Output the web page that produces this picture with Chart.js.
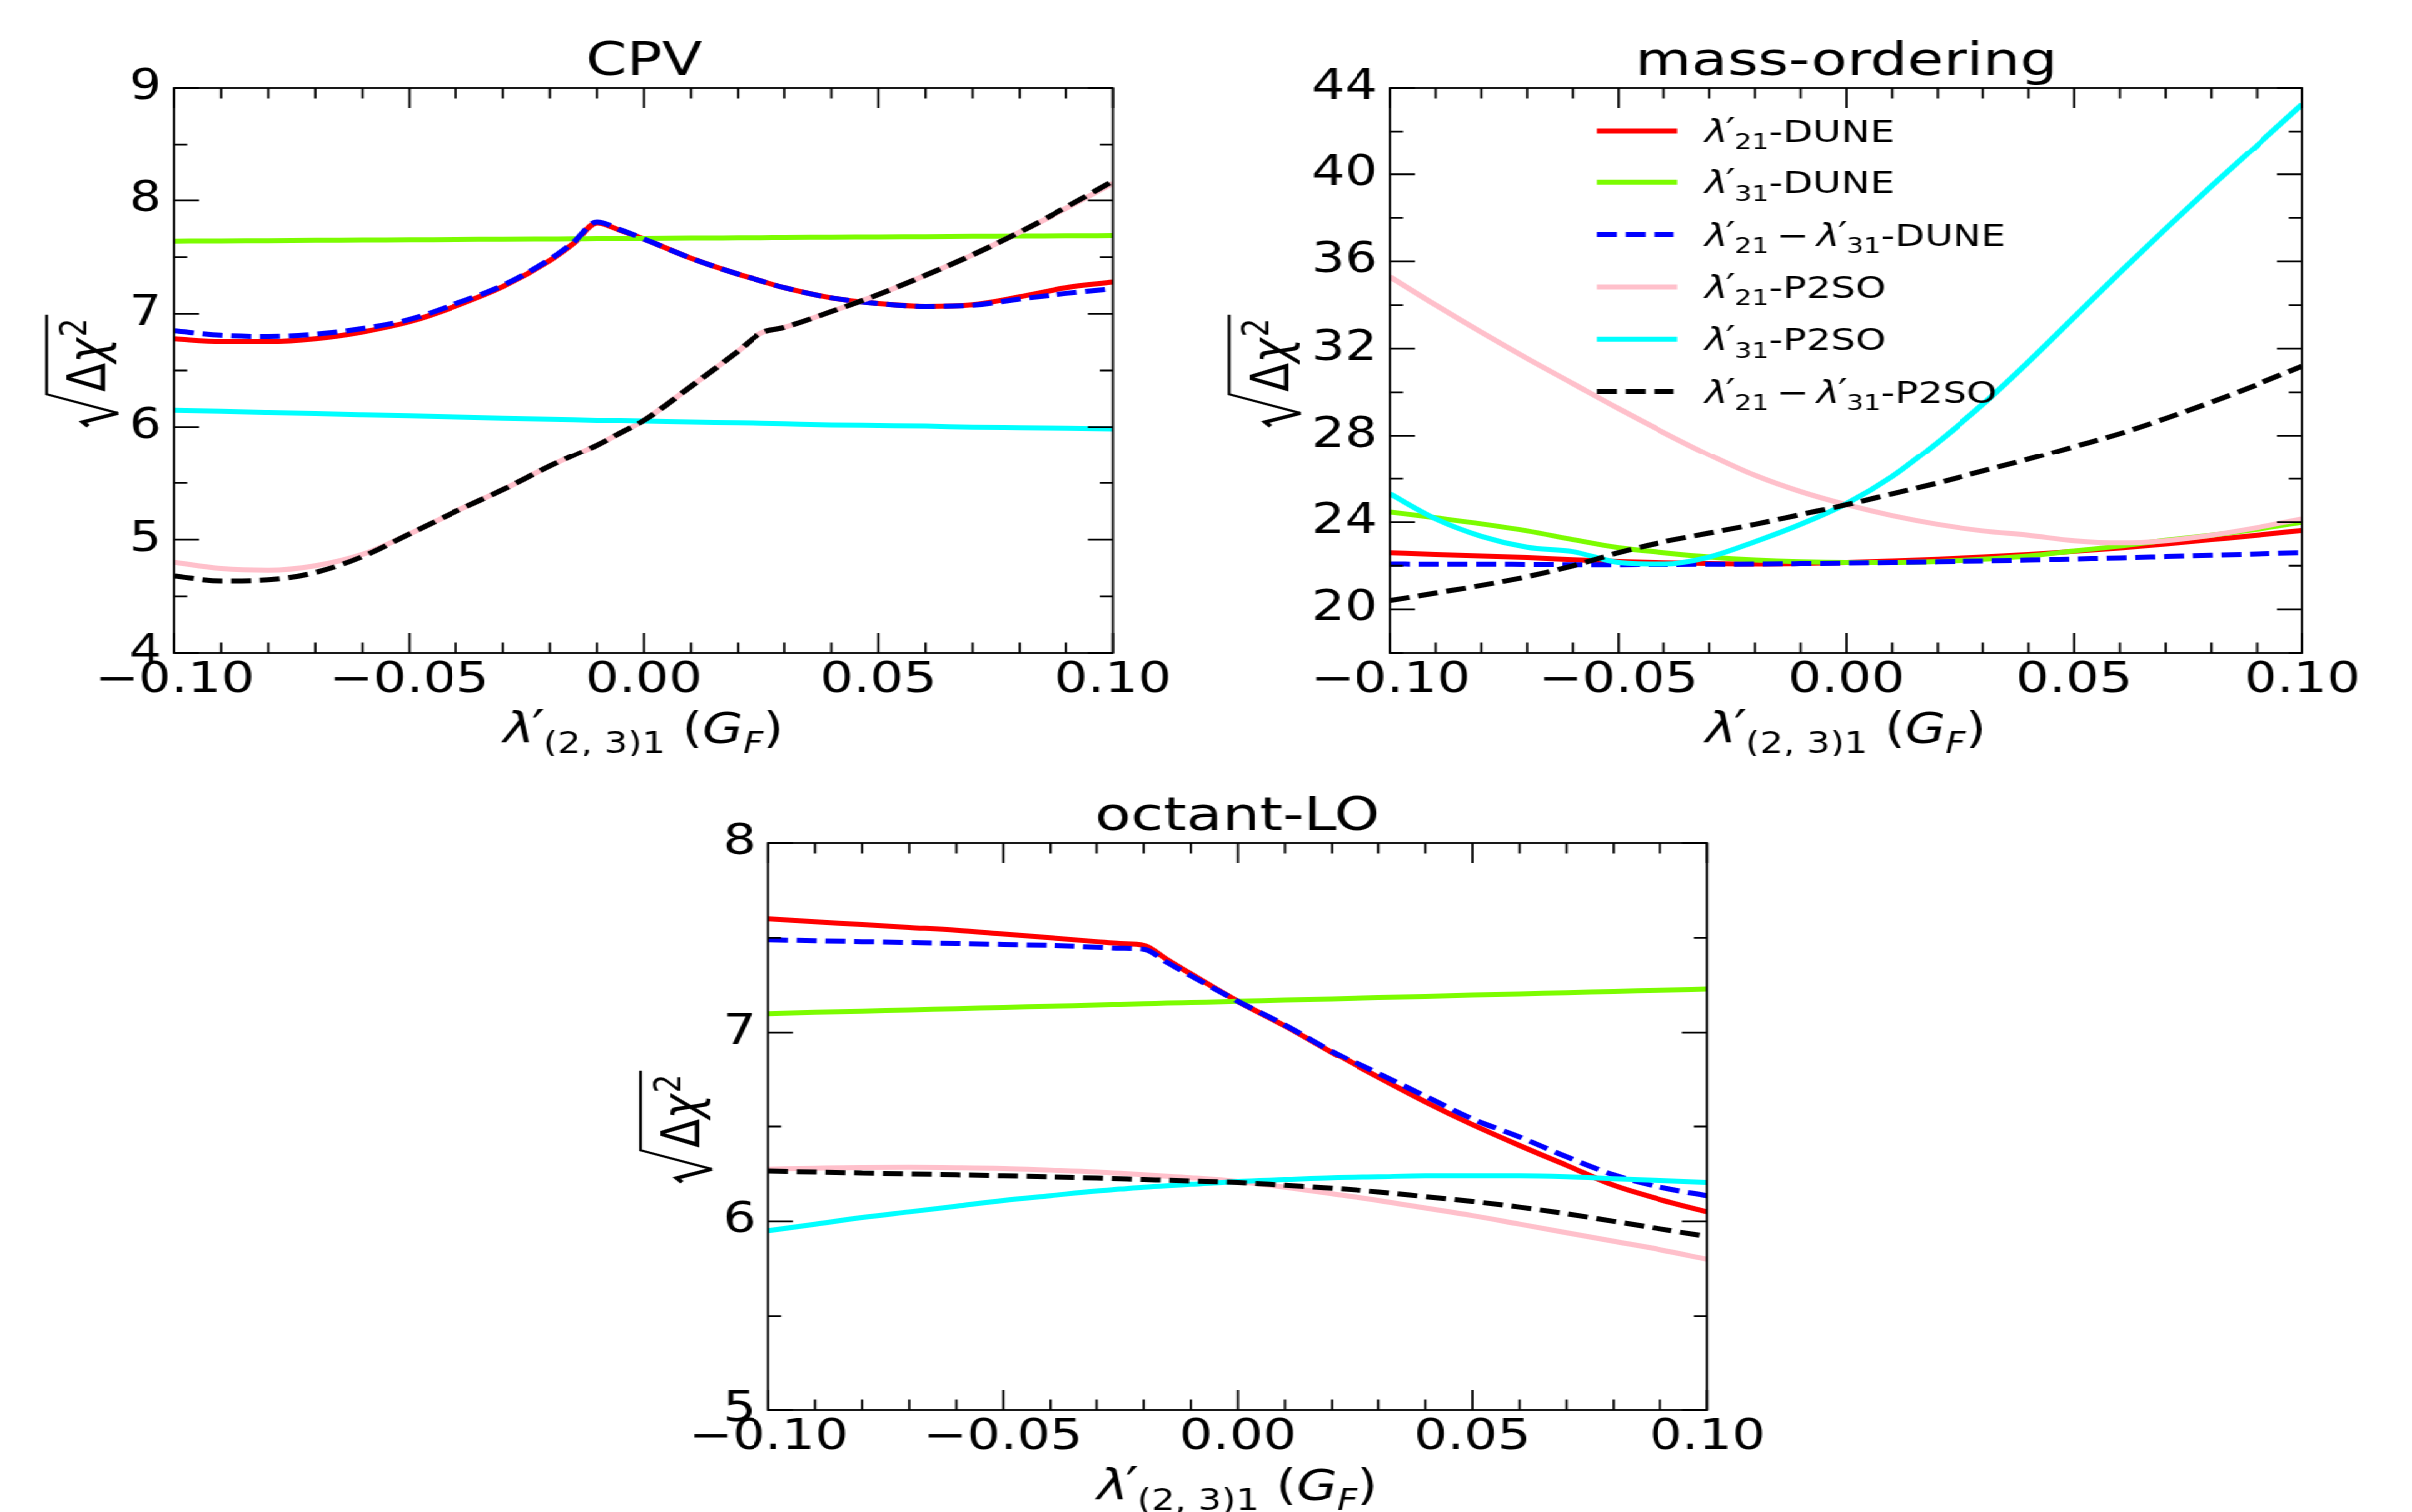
<!DOCTYPE html>
<html>
<head>
<meta charset="utf-8">
<script src="https://cdn.jsdelivr.net/npm/chart.js@4.4.1/dist/chart.umd.min.js"></script>
<style>
  html, body { margin: 0; padding: 0; background: #fff; overflow: hidden; }
  #fig { position: absolute; left: 0; top: 0; width: 1936px; height: 1517px;
         transform: scaleX(1.25); transform-origin: 0 0; }
  #fig canvas { position: absolute; }
</style>
</head>
<body>
<div id="fig">
  <canvas id="cpv" width="968" height="775" style="left:0px;top:0px"></canvas>
  <canvas id="mo" width="968" height="775" style="left:968px;top:0px"></canvas>
  <canvas id="oct" width="968" height="757" style="left:484px;top:760px"></canvas>
</div>
<script>
// ---- series styling (order follows the legend) ----
const seriesNames  = ['λ′21-DUNE', 'λ′31-DUNE', 'λ′21−λ′31-DUNE', 'λ′21-P2SO', 'λ′31-P2SO', 'λ′21−λ′31-P2SO'];
const seriesColors = ['#ff0000', '#7cfc00', '#0000ff', '#ffc0cb', '#00ffff', '#000000'];
const seriesDashed = [false, false, true, false, false, true];

// ---- shared x axis ----
const xTicks      = [-0.10, -0.05, 0.00, 0.05, 0.10];
const xTickLabels = ['−0.10', '−0.05', '0.00', '0.05', '0.10'];

// ---- CPV panel ----
const cpvX     = [-0.10, -0.09, -0.08, -0.07, -0.06, -0.05, -0.04, -0.03, -0.02, -0.015, -0.01, -0.005, 0.00, 0.01, 0.02, 0.025, 0.03, 0.04, 0.05, 0.06, 0.07, 0.08, 0.09, 0.10];
const cpvRed   = [6.78, 6.755, 6.755, 6.78, 6.84, 6.93, 7.07, 7.24, 7.47, 7.62, 7.80, 7.735, 7.66, 7.49, 7.35, 7.29, 7.23, 7.14, 7.09, 7.065, 7.08, 7.15, 7.23, 7.28];
const cpvGreen = [7.640, 7.643, 7.645, 7.648, 7.650, 7.653, 7.655, 7.658, 7.660, 7.661, 7.663, 7.664, 7.665, 7.668, 7.670, 7.671, 7.673, 7.675, 7.678, 7.680, 7.683, 7.685, 7.688, 7.690];
const cpvBlue  = [6.85, 6.81, 6.80, 6.82, 6.87, 6.95, 7.09, 7.25, 7.48, 7.63, 7.81, 7.74, 7.66, 7.49, 7.35, 7.29, 7.23, 7.14, 7.09, 7.065, 7.075, 7.13, 7.18, 7.22];
const cpvPink  = [4.80, 4.745, 4.73, 4.77, 4.87, 5.05, 5.25, 5.44, 5.65, 5.745, 5.84, 5.95, 6.06, 6.36, 6.67, 6.83, 6.88, 7.02, 7.17, 7.34, 7.52, 7.72, 7.93, 8.15];
const cpvCyan  = [6.15, 6.14, 6.13, 6.12, 6.11, 6.10, 6.09, 6.08, 6.07, 6.065, 6.06, 6.058, 6.055, 6.045, 6.04, 6.035, 6.03, 6.02, 6.015, 6.01, 6.00, 5.995, 5.99, 5.985];
const cpvBlack = [4.68, 4.635, 4.645, 4.71, 4.85, 5.05, 5.25, 5.44, 5.65, 5.745, 5.84, 5.95, 6.06, 6.36, 6.67, 6.83, 6.88, 7.02, 7.17, 7.34, 7.52, 7.72, 7.94, 8.17];
const cpvYTicks = [4, 5, 6, 7, 8, 9];

// ---- mass-ordering panel ----
const moX     = [-0.10, -0.09, -0.08, -0.07, -0.06, -0.05, -0.04, -0.03, -0.02, -0.01, 0.00, 0.01, 0.02, 0.03, 0.04, 0.05, 0.06, 0.07, 0.08, 0.09, 0.10];
const moRed   = [22.6, 22.52, 22.45, 22.38, 22.28, 22.2, 22.14, 22.1, 22.08, 22.1, 22.15, 22.22, 22.3, 22.4, 22.52, 22.66, 22.82, 23.0, 23.2, 23.4, 23.62];
const moGreen = [24.47, 24.2, 23.92, 23.6, 23.2, 22.83, 22.6, 22.4, 22.26, 22.18, 22.15, 22.15, 22.2, 22.3, 22.45, 22.68, 22.9, 23.17, 23.4, 23.67, 24.0];
const moBlue  = [22.08, 22.07, 22.07, 22.06, 22.05, 22.05, 22.06, 22.07, 22.08, 22.1, 22.12, 22.15, 22.18, 22.22, 22.26, 22.31, 22.36, 22.42, 22.48, 22.54, 22.6];
const moPink  = [35.3, 34.0, 32.75, 31.55, 30.4, 29.25, 28.15, 27.1, 26.15, 25.4, 24.8, 24.3, 23.9, 23.6, 23.4, 23.15, 23.05, 23.15, 23.4, 23.75, 24.15];
const moCyan  = [25.3, 24.15, 23.35, 22.85, 22.65, 22.15, 22.08, 22.4, 23.1, 23.9, 24.85, 26.1, 27.7, 29.45, 31.4, 33.45, 35.5, 37.5, 39.45, 41.35, 43.25];
const moBlack = [20.4, 20.75, 21.1, 21.5, 22.0, 22.6, 23.1, 23.5, 23.9, 24.35, 24.8, 25.3, 25.8, 26.35, 26.9, 27.5, 28.1, 28.8, 29.55, 30.35, 31.2];
const moYTicks = [20, 24, 28, 32, 36, 40, 44];

// ---- octant-LO panel ----
const octX     = [-0.10, -0.09, -0.08, -0.07, -0.06, -0.05, -0.04, -0.03, -0.025, -0.02, -0.015, -0.01, 0.00, 0.01, 0.02, 0.03, 0.04, 0.05, 0.06, 0.07, 0.08, 0.09, 0.10];
const octRed   = [7.60, 7.585, 7.57, 7.555, 7.54, 7.52, 7.50, 7.48, 7.47, 7.46, 7.385, 7.31, 7.165, 7.035, 6.895, 6.76, 6.63, 6.51, 6.40, 6.295, 6.19, 6.115, 6.05];
const octGreen = [7.10, 7.107, 7.113, 7.12, 7.126, 7.133, 7.139, 7.146, 7.149, 7.152, 7.156, 7.159, 7.165, 7.172, 7.178, 7.185, 7.191, 7.198, 7.204, 7.211, 7.217, 7.224, 7.23];
const octBlue  = [7.49, 7.485, 7.48, 7.475, 7.47, 7.465, 7.46, 7.45, 7.445, 7.44, 7.37, 7.30, 7.165, 7.04, 6.90, 6.78, 6.66, 6.54, 6.445, 6.34, 6.245, 6.18, 6.135];
const octPink  = [6.275, 6.28, 6.284, 6.285, 6.283, 6.279, 6.27, 6.26, 6.253, 6.245, 6.238, 6.23, 6.21, 6.18, 6.145, 6.11, 6.07, 6.03, 5.985, 5.94, 5.895, 5.85, 5.80];
const octCyan  = [5.95, 5.985, 6.02, 6.05, 6.08, 6.11, 6.135, 6.16, 6.17, 6.18, 6.188, 6.195, 6.21, 6.22, 6.23, 6.235, 6.24, 6.24, 6.24, 6.235, 6.225, 6.215, 6.205];
const octBlack = [6.265, 6.26, 6.255, 6.25, 6.245, 6.24, 6.235, 6.228, 6.224, 6.22, 6.217, 6.213, 6.205, 6.19, 6.175, 6.155, 6.13, 6.105, 6.075, 6.04, 6.00, 5.96, 5.92];
const octYTicks = [5, 6, 7, 8];

// ---- drawing constants ----
const FONT = '"DejaVu Sans"';
const LW = 5;
const DASH = [16, 7];
const TICK_FS = 42, TITLE_FS = 47, LABEL_FS = 42, LEGEND_FS = 31;
const MAJOR_LEN = 20, MINOR_LEN = 10.5;
const Y_AXIS_W = 100, X_AXIS_H = 80;

Chart.defaults.font.family = FONT;

// Mixed-style text run: parts = [{t, it, sub, sup, dx}], dx in em
function layoutRich(ctx, parts, size) {
  let w = 0;
  const items = parts.map(p => {
    const s = size * ((p.sub || p.sup) ? 0.7 : 1) * (p.scale || 1);
    const font = (p.it ? 'italic ' : '') + s.toFixed(2) + 'px ' + FONT;
    ctx.font = font;
    const tw = ctx.measureText(p.t).width;
    const x = w + (p.dx || 0) * size;
    const dy = p.sub ? 0.24 * size : (p.sup ? -0.36 * size : (p.dy || 0) * size);
    w = x + tw;
    return { t: p.t, font, x, dy };
  });
  return { items, width: w };
}
function drawRich(ctx, parts, x, y, size, align) {
  const L = layoutRich(ctx, parts, size);
  const x0 = align === 'center' ? x - L.width / 2 : x;
  ctx.textAlign = 'left';
  ctx.textBaseline = 'alphabetic';
  L.items.forEach(it => { ctx.font = it.font; ctx.fillText(it.t, x0 + it.x, y + it.dy); });
  return L.width;
}

const lam = (sub) => [{ t: 'λ', it: true }, { t: '′', dx: -0.05, dy: 0.0, scale: 1.1 }, { t: sub, sub: true, dx: -0.03 }];
const lamAfterOp = (sub) => lam(sub).map((p, i) => i === 0 ? { ...p, dx: 0.2 } : p);
const legendParts = [
  [...lam('21'), { t: '-DUNE' }],
  [...lam('31'), { t: '-DUNE' }],
  [...lam('21'), { t: '−', dx: 0.2 }, ...lamAfterOp('31'), { t: '-DUNE' }],
  [...lam('21'), { t: '-P2SO' }],
  [...lam('31'), { t: '-P2SO' }],
  [...lam('21'), { t: '−', dx: 0.2 }, ...lamAfterOp('31'), { t: '-P2SO' }]
];
const xLabelParts = [...lam('(2, 3)1'), { t: ' (' }, { t: 'G', it: true }, { t: 'F', it: true, sub: true }, { t: ')' }];
const yLabelParts = [{ t: 'Δ' }, { t: 'χ', it: true }, { t: '2', sup: true, dx: 0.03 }];

// rotated √Δχ² label; bx = baseline x, cy = vertical centre
function drawSqrtLabel(ctx, bx, cy, size) {
  ctx.save();
  ctx.translate(bx, cy);
  ctx.rotate(-Math.PI / 2);
  const L = layoutRich(ctx, yLabelParts, size);
  const radW = 0.76 * size;
  const total = radW + 0.06 * size + L.width + 0.08 * size;
  const x0 = -total / 2;
  const barY = -1.12 * size;
  ctx.strokeStyle = '#000';
  ctx.lineJoin = 'miter';
  ctx.lineWidth = 2.2;
  ctx.beginPath();
  ctx.moveTo(x0 + 0.31 * size, 0.24 * size);
  ctx.lineTo(x0 + radW, barY);
  ctx.lineTo(x0 + total, barY);
  ctx.stroke();
  ctx.lineWidth = 3.6;
  ctx.beginPath();
  ctx.moveTo(x0, -0.33 * size);
  ctx.lineTo(x0 + 0.1 * size, -0.43 * size);
  ctx.lineTo(x0 + 0.31 * size, 0.24 * size);
  ctx.stroke();
  ctx.fillStyle = '#000';
  drawRich(ctx, yLabelParts, x0 + radW + 0.06 * size, 0, size, 'left');
  ctx.restore();
}

function makePanel(cfg) {
  const canvas = document.getElementById(cfg.id);
  const W = canvas.width, H = canvas.height, A = cfg.area;

  // frame with inward ticks on all four sides
  const framePlugin = {
    id: 'frame',
    afterDatasetsDraw(chart) {
      const { ctx, chartArea: a, scales: { x, y } } = chart;
      ctx.save();
      ctx.strokeStyle = '#000';
      ctx.lineWidth = 1.8;
      ctx.lineCap = 'butt';
      ctx.beginPath();
      for (let k = -10; k <= 10; k++) {
        const px = x.getPixelForValue(k / 100);
        const len = (k % 5 === 0) ? MAJOR_LEN : MINOR_LEN;
        ctx.moveTo(px, a.bottom); ctx.lineTo(px, a.bottom - len);
        ctx.moveTo(px, a.top); ctx.lineTo(px, a.top + len);
      }
      const nMinor = Math.round((cfg.yMax - cfg.yMin) / cfg.yMinor);
      for (let k = 0; k <= nMinor; k++) {
        const v = cfg.yMin + k * cfg.yMinor;
        const isMajor = cfg.yTicks.some(t => Math.abs(t - v) < 1e-9);
        const len = isMajor ? MAJOR_LEN : MINOR_LEN;
        const py = y.getPixelForValue(v);
        ctx.moveTo(a.left, py); ctx.lineTo(a.left + len, py);
        ctx.moveTo(a.right, py); ctx.lineTo(a.right - len, py);
      }
      ctx.stroke();
      ctx.strokeRect(a.left, a.top, a.right - a.left, a.bottom - a.top);
      ctx.restore();
    }
  };

  // title, axis labels and legend
  const textPlugin = {
    id: 'texts',
    afterDraw(chart) {
      const { ctx, chartArea: a } = chart;
      const cx = (a.left + a.right) / 2;
      ctx.save();
      ctx.fillStyle = '#000';
      ctx.font = TITLE_FS + 'px ' + FONT;
      ctx.textAlign = 'center';
      ctx.textBaseline = 'alphabetic';
      ctx.fillText(cfg.title, cx, a.top - 13);

      drawRich(ctx, xLabelParts, cx, a.bottom + 90, LABEL_FS, 'center');

      ctx.font = TICK_FS + 'px ' + FONT;
      const maxW = Math.max(...cfg.yTicks.map(v => ctx.measureText(String(v)).width));
      drawSqrtLabel(ctx, a.left - 10 - maxW - 19, (a.top + a.bottom) / 2, LABEL_FS);

      if (cfg.legend) {
        const hx = a.left + 165.6, hw = 65, tx = a.left + 252.8;
        legendParts.forEach((parts, i) => {
          const ry = 131 + i * 52.3;
          ctx.strokeStyle = seriesColors[i];
          ctx.lineWidth = LW;
          ctx.setLineDash(seriesDashed[i] ? DASH : []);
          ctx.beginPath();
          ctx.moveTo(hx, ry); ctx.lineTo(hx + hw, ry);
          ctx.stroke();
          ctx.setLineDash([]);
          ctx.fillStyle = '#000';
          drawRich(ctx, parts, tx, ry + 11, LEGEND_FS, 'left');
        });
      }
      ctx.restore();
    }
  };

  const datasets = cfg.ys.map((ys, i) => ({
    label: seriesNames[i],
    data: cfg.xs.map((x, j) => ({ x, y: ys[j] })),
    borderColor: seriesColors[i],
    backgroundColor: seriesColors[i],
    borderWidth: LW,
    borderDash: seriesDashed[i] ? DASH : [],
    pointRadius: 0,
    fill: false,
    cubicInterpolationMode: 'monotone',
    order: -i
  }));

  return new Chart(canvas, {
    type: 'line',
    data: { datasets },
    options: {
      responsive: false,
      animation: false,
      devicePixelRatio: 1,
      events: [],
      layout: { padding: { left: A.left - Y_AXIS_W, top: A.top, right: W - A.right, bottom: H - A.bottom - X_AXIS_H } },
      scales: {
        x: {
          type: 'linear', min: -0.1, max: 0.1,
          grid: { display: false, drawTicks: false },
          border: { display: false },
          afterBuildTicks: s => { s.ticks = xTicks.map(v => ({ value: v })); },
          afterFit: s => { s.height = X_AXIS_H; },
          ticks: { color: '#000', font: { size: TICK_FS }, padding: 3, maxRotation: 0, autoSkip: false,
                   callback: (v, i) => xTickLabels[i] }
        },
        y: {
          type: 'linear', min: cfg.yMin, max: cfg.yMax,
          grid: { display: false, drawTicks: false },
          border: { display: false },
          afterBuildTicks: s => { s.ticks = cfg.yTicks.map(v => ({ value: v })); },
          afterFit: s => { s.width = Y_AXIS_W; },
          ticks: { color: '#000', font: { size: TICK_FS }, padding: 10, autoSkip: false,
                   callback: (v, i) => String(cfg.yTicks[i]) }
        }
      },
      plugins: { legend: { display: false }, tooltip: { enabled: false }, title: { display: false } }
    },
    plugins: [framePlugin, textPlugin]
  });
}

makePanel({ id: 'cpv', title: 'CPV', area: { left: 140, top: 88, right: 893.6, bottom: 655 },
  xs: cpvX, ys: [cpvRed, cpvGreen, cpvBlue, cpvPink, cpvCyan, cpvBlack],
  yMin: 4, yMax: 9, yTicks: cpvYTicks, yMinor: 0.5, legend: false });
makePanel({ id: 'mo', title: 'mass-ordering', area: { left: 148, top: 88, right: 880, bottom: 655 },
  xs: moX, ys: [moRed, moGreen, moBlue, moPink, moCyan, moBlack],
  yMin: 18, yMax: 44, yTicks: moYTicks, yMinor: 2, legend: true });
makePanel({ id: 'oct', title: 'octant-LO', area: { left: 132.8, top: 86, right: 886.4, bottom: 655 },
  xs: octX, ys: [octRed, octGreen, octBlue, octPink, octCyan, octBlack],
  yMin: 5, yMax: 8, yTicks: octYTicks, yMinor: 0.5, legend: false });
</script>
</body>
</html>
